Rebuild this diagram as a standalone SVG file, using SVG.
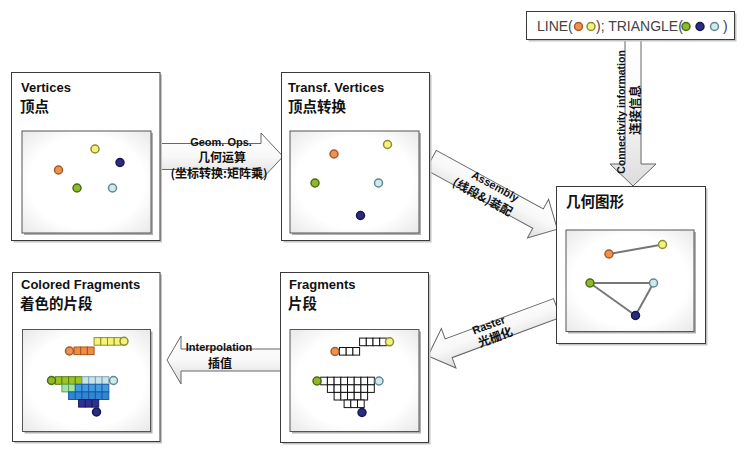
<svg xmlns="http://www.w3.org/2000/svg" width="746" height="453" viewBox="0 0 746 453">
<style>
.box{fill:#fff;stroke:#3a3a3a;stroke-width:1}
.sh{fill:#c4c4c4}
.psh{fill:#b0b0b0}
.panel{fill:url(#pg);stroke:#555;stroke-width:1}
.t{font-family:"Liberation Sans",Arial,sans-serif;font-weight:bold;font-size:13px;fill:#111}
.c{font-family:"Noto Sans CJK SC",sans-serif;font-weight:bold;font-size:14.5px;fill:#111}
.al{font-family:"Liberation Sans",Arial,sans-serif;font-weight:bold;font-size:11px;fill:#111}
.ac{font-family:"Noto Sans CJK SC",sans-serif;font-weight:bold;font-size:12px;fill:#111}
.lt{font-family:"Liberation Sans",Arial,sans-serif;font-size:14px;fill:#444}
.arrow{fill:url(#ag);stroke:#666;stroke-width:1}
.o{fill:#ec9252;stroke:#a85a28;stroke-width:1.5}
.y{fill:#f2f27c;stroke:#8c8c34;stroke-width:1.5}
.n{fill:#2b2b82;stroke:#181850;stroke-width:1.5}
.g{fill:#8cba2a;stroke:#4d6c12;stroke-width:1.5}
.b{fill:#d2e8ea;stroke:#5d8a92;stroke-width:1.5}
.edge{stroke:#777;stroke-width:2;fill:none}
.fw{fill:#fff;stroke:#111;stroke-width:1}
.co{fill:#f08d42;stroke:#a4541e;stroke-width:1}
.cy{fill:#f4f476;stroke:#8e8e2e;stroke-width:1}
.cg{fill:#9cc520;stroke:#5a7a14;stroke-width:1}
.cl{fill:#c9e3ea;stroke:#7fa4ae;stroke-width:1}
.clg{fill:#9fe59b;stroke:#5aa060;stroke-width:1}
.cb{fill:#3f9ce0;stroke:#1f5fa8;stroke-width:1}
.cb2{fill:#2f86d4;stroke:#1a5aa0;stroke-width:1}
.cd{fill:#2e3192;stroke:#1a1a5a;stroke-width:1}
</style>
<defs>
<radialGradient id="pg" cx="0.5" cy="0.5" r="0.75">
<stop offset="0.6" stop-color="#ffffff"/>
<stop offset="1" stop-color="#e4e4e4"/>
</radialGradient>
<linearGradient id="ag" x1="0" y1="0" x2="0" y2="1">
<stop offset="0" stop-color="#ffffff"/>
<stop offset="0.5" stop-color="#f8f8f8"/>
<stop offset="1" stop-color="#dcdcdc"/>
</linearGradient>
</defs>

<g id="connectors">
<g id="arrow-geom">
<polygon class="arrow" points="160,143.5 261,143.5 261,133 283,156.5 261,180 261,169.5 160,169.5"/>
<text class="al" x="221" y="146" text-anchor="middle">Geom. Ops.</text>
<text class="ac" x="222" y="162" text-anchor="middle">几何运算</text>
<text class="ac" x="219" y="178" text-anchor="middle">(坐标转换:矩阵乘)</text>
</g>
<g id="arrow-assembly" transform="translate(431,160) rotate(28.7)">
<polygon class="arrow" points="0,-11 122,-11 122,-22 144,0 122,22 122,11 0,11"/>
<text class="al" x="69" y="-4" text-anchor="middle">Assembly</text>
<text class="ac" x="63" y="12" text-anchor="middle">(线段&amp;)装配</text>
</g>
<g id="arrow-connectivity">
<polygon class="arrow" points="625,40 641,40 641,164 656,164 633,186 610,164 625,164"/>
<text class="al" transform="translate(625,112) rotate(-90)" text-anchor="middle" style="font-size:10.5px">Connectivity information</text>
<text class="ac" transform="translate(640,110) rotate(-90)" text-anchor="middle" style="font-size:12.5px">连接信息</text>
</g>
<g id="arrow-raster" transform="translate(557,308) rotate(-20.4)">
<polygon class="arrow" points="0,-10 -115.6,-10 -115.6,-21 -137.6,0 -115.6,21 -115.6,10 0,10"/>
<text class="al" x="-70" y="-4" text-anchor="middle">Raster</text>
<text class="ac" x="-68" y="10" text-anchor="middle">光栅化</text>
</g>
<g id="arrow-interp">
<polygon class="arrow" points="281,349 181,349 181,336 167,360 181,384 181,371 281,371"/>
<text class="al" x="219" y="351" text-anchor="middle">Interpolation</text>
<text class="ac" x="220" y="368" text-anchor="middle">插值</text>
</g>
</g>

<g id="node-primitives">
<rect class="sh" x="528.5" y="13.5" width="208" height="28"/>
<rect class="box" x="526.5" y="11.5" width="208" height="28"/>
<text class="lt" x="537" y="31">LINE(</text>
<circle class="o" cx="578.5" cy="26.5" r="4"/>
<circle class="y" cx="591" cy="26.5" r="4"/>
<text class="lt" x="596" y="31">); TRIANGLE(</text>
<circle class="g" cx="686" cy="26.5" r="4"/>
<circle class="n" cx="700" cy="26.5" r="4"/>
<circle class="b" cx="714.5" cy="26.5" r="4"/>
<text class="lt" x="723" y="31">)</text>
</g>

<g id="node-vertices">
<rect class="sh" x="13.5" y="74.5" width="148.5" height="168"/>
<rect class="box" x="11.5" y="72.5" width="148.5" height="168"/>
<text class="t" x="21" y="92">Vertices</text>
<text class="c" x="20" y="112">顶点</text>
<rect class="psh" x="24" y="133" width="129" height="102"/>
<rect class="panel" x="22" y="131" width="129" height="102"/>
<circle class="y" cx="95" cy="149" r="4"/>
<circle class="n" cx="120" cy="162.5" r="4"/>
<circle class="o" cx="58.5" cy="170" r="4"/>
<circle class="g" cx="77" cy="188" r="4"/>
<circle class="b" cx="112.5" cy="188" r="4"/>
</g>

<g id="node-transformed">
<rect class="sh" x="283.5" y="74.5" width="148" height="168"/>
<rect class="box" x="281.5" y="72.5" width="148" height="168"/>
<text class="t" x="288" y="92">Transf. Vertices</text>
<text class="c" x="288" y="112">顶点转换</text>
<rect class="psh" x="292" y="133" width="129" height="102"/>
<rect class="panel" x="290" y="131" width="129" height="102"/>
<circle class="o" cx="334" cy="154" r="4"/>
<circle class="y" cx="387.5" cy="144.5" r="4"/>
<circle class="g" cx="315" cy="183" r="4"/>
<circle class="b" cx="378.5" cy="183" r="4"/>
<circle class="n" cx="360.5" cy="215.5" r="4"/>
</g>

<g id="node-geometry">
<rect class="sh" x="558.5" y="188.5" width="149" height="157"/>
<rect class="box" x="556.5" y="186.5" width="149" height="157"/>
<text class="c" x="566" y="207">几何图形</text>
<rect class="psh" x="568" y="232" width="128" height="101.5"/>
<rect class="panel" x="566" y="230" width="128" height="101.5"/>
<line class="edge" x1="609" y1="254" x2="662.5" y2="244.5"/>
<line class="edge" x1="590" y1="283" x2="653.5" y2="283"/>
<line class="edge" x1="590" y1="283" x2="635.5" y2="315.5"/>
<line class="edge" x1="653.5" y1="283" x2="635.5" y2="315.5"/>
<circle class="o" cx="609" cy="254" r="4"/>
<circle class="y" cx="662.5" cy="244.5" r="4"/>
<circle class="g" cx="590" cy="283" r="4"/>
<circle class="b" cx="653.5" cy="283" r="4"/>
<circle class="n" cx="635.5" cy="315.5" r="4"/>
</g>

<g id="node-fragments">
<rect class="sh" x="282.5" y="274.5" width="148" height="170"/>
<rect class="box" x="280.5" y="272.5" width="148" height="170"/>
<text class="t" x="289" y="289">Fragments</text>
<text class="c" x="288" y="309">片段</text>
<rect class="psh" x="292" y="331.5" width="129" height="102"/>
<rect class="panel" x="290" y="329.5" width="129" height="102"/>
<g transform="translate(265.5,0.5)">
<rect class="fw" x="74" y="347" width="6.7" height="7.6"/>
<rect class="fw" x="80.7" y="347" width="6.7" height="7.6"/>
<rect class="fw" x="87.4" y="347" width="6.7" height="7.6"/>
<rect class="fw" x="94.1" y="337.6" width="6.7" height="7.6"/>
<rect class="fw" x="100.8" y="337.6" width="6.7" height="7.6"/>
<rect class="fw" x="107.5" y="337.6" width="6.7" height="7.6"/>
<rect class="fw" x="114.2" y="337.6" width="6.7" height="7.6"/>
<circle class="o" cx="69.5" cy="351" r="4"/>
<circle class="y" cx="124" cy="341.3" r="4"/>
<rect class="fw" x="55.2" y="376.7" width="6.7" height="7.6"/>
<rect class="fw" x="61.9" y="376.7" width="6.7" height="7.6"/>
<rect class="fw" x="68.6" y="376.7" width="6.7" height="7.6"/>
<rect class="fw" x="75.3" y="376.7" width="6.7" height="7.6"/>
<rect class="fw" x="82" y="376.7" width="6.7" height="7.6"/>
<rect class="fw" x="88.7" y="376.7" width="6.7" height="7.6"/>
<rect class="fw" x="95.4" y="376.7" width="6.7" height="7.6"/>
<rect class="fw" x="102.1" y="376.7" width="6.7" height="7.6"/>
<rect class="fw" x="61.9" y="384.3" width="6.7" height="7.6"/>
<rect class="fw" x="68.6" y="384.3" width="6.7" height="7.6"/>
<rect class="fw" x="75.3" y="384.3" width="6.7" height="7.6"/>
<rect class="fw" x="82" y="384.3" width="6.7" height="7.6"/>
<rect class="fw" x="88.7" y="384.3" width="6.7" height="7.6"/>
<rect class="fw" x="95.4" y="384.3" width="6.7" height="7.6"/>
<rect class="fw" x="102.1" y="384.3" width="6.7" height="7.6"/>
<rect class="fw" x="68.6" y="391.9" width="6.7" height="7.6"/>
<rect class="fw" x="75.3" y="391.9" width="6.7" height="7.6"/>
<rect class="fw" x="82" y="391.9" width="6.7" height="7.6"/>
<rect class="fw" x="88.7" y="391.9" width="6.7" height="7.6"/>
<rect class="fw" x="95.4" y="391.9" width="6.7" height="7.6"/>
<rect class="fw" x="78.6" y="399.5" width="6.7" height="7.6"/>
<rect class="fw" x="85.3" y="399.5" width="6.7" height="7.6"/>
<rect class="fw" x="92" y="399.5" width="6.7" height="7.6"/>
<circle class="g" cx="51.5" cy="380.5" r="4"/>
<circle class="b" cx="113.5" cy="380.5" r="4"/>
<circle class="n" cx="96.5" cy="412" r="4"/>
</g>
</g>

<g id="node-colored">
<rect class="sh" x="14.5" y="274.5" width="147.5" height="169"/>
<rect class="box" x="12.5" y="272.5" width="147.5" height="169"/>
<text class="t" x="21" y="289">Colored Fragments</text>
<text class="c" x="20" y="309">着色的片段</text>
<rect class="psh" x="24.5" y="331.5" width="128" height="102"/>
<rect class="panel" x="22.5" y="329.5" width="128" height="102"/>
<rect class="co" x="74" y="347" width="6.7" height="7.6"/>
<rect class="co" x="80.7" y="347" width="6.7" height="7.6"/>
<rect class="co" x="87.4" y="347" width="6.7" height="7.6"/>
<rect class="cy" x="94.1" y="337.6" width="6.7" height="7.6"/>
<rect class="cy" x="100.8" y="337.6" width="6.7" height="7.6"/>
<rect class="cy" x="107.5" y="337.6" width="6.7" height="7.6"/>
<rect class="cy" x="114.2" y="337.6" width="6.7" height="7.6"/>
<circle class="o" cx="69.5" cy="351" r="4"/>
<circle class="y" cx="124" cy="341.3" r="4"/>
<rect class="cg" x="55.2" y="376.7" width="6.7" height="7.6"/>
<rect class="cg" x="61.9" y="376.7" width="6.7" height="7.6"/>
<rect class="cg" x="68.6" y="376.7" width="6.7" height="7.6"/>
<rect class="cg" x="75.3" y="376.7" width="6.7" height="7.6"/>
<rect class="cl" x="82" y="376.7" width="6.7" height="7.6"/>
<rect class="cl" x="88.7" y="376.7" width="6.7" height="7.6"/>
<rect class="cl" x="95.4" y="376.7" width="6.7" height="7.6"/>
<rect class="cl" x="102.1" y="376.7" width="6.7" height="7.6"/>
<rect class="clg" x="61.9" y="384.3" width="6.7" height="7.6"/>
<rect class="clg" x="68.6" y="384.3" width="6.7" height="7.6"/>
<rect class="cb" x="75.3" y="384.3" width="6.7" height="7.6"/>
<rect class="cb" x="82" y="384.3" width="6.7" height="7.6"/>
<rect class="cb" x="88.7" y="384.3" width="6.7" height="7.6"/>
<rect class="cb" x="95.4" y="384.3" width="6.7" height="7.6"/>
<rect class="cb" x="102.1" y="384.3" width="6.7" height="7.6"/>
<rect class="cb2" x="68.6" y="391.9" width="6.7" height="7.6"/>
<rect class="cb2" x="75.3" y="391.9" width="6.7" height="7.6"/>
<rect class="cb2" x="82" y="391.9" width="6.7" height="7.6"/>
<rect class="cb2" x="88.7" y="391.9" width="6.7" height="7.6"/>
<rect class="cb2" x="95.4" y="391.9" width="6.7" height="7.6"/>
<rect class="cb2" x="102.1" y="391.9" width="6.7" height="7.6"/>
<rect class="cd" x="78.6" y="399.5" width="6.7" height="7.6"/>
<rect class="cd" x="85.3" y="399.5" width="6.7" height="7.6"/>
<rect class="cd" x="92" y="399.5" width="6.7" height="7.6"/>
<circle class="g" cx="51.5" cy="380.5" r="4"/>
<circle class="b" cx="113.5" cy="380.5" r="4"/>
<circle class="n" cx="96.5" cy="412" r="4"/>
</g>
</svg>
